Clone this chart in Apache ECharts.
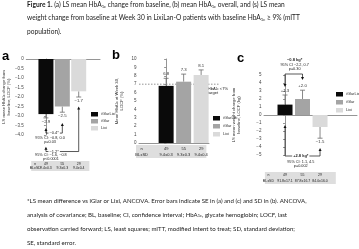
<!DOCTYPE html>
<html><head><meta charset="utf-8">
<script src="https://cdn.jsdelivr.net/npm/echarts@6/dist/echarts.min.js"></script>
<style>html,body{margin:0;padding:0;background:#fff}#c{width:359px;height:249px}</style>
</head><body><div id="c"></div>
<script>
// ---------- data ----------
const categories = ['iGlarLixi', 'iGlar', 'Lixi'];
const nCounts = ['49', '55', '29'];
// (a) LS mean HbA1c change from baseline (%)
const hba1cChange = [-2.9, -2.5, -1.7];
const hba1cChangeSE = [0.2, 0.3, 0.3];
const hba1cChangeLabels = ['−2.9', '−2.5', '−1.7'];
const blHbA1c = ['9.4±0.3', '9.3±0.3', '9.4±0.4'];
// (b) mean HbA1c at week 30 (%)
const hba1cMean = [6.8, 7.3, 8.1];
const hba1cMeanSD = [0.9, 0.9, 0.6];
const hba1cMeanLabels = ['6.8', '7.3', '8.1'];
const hba1cTarget = 7;
// (c) LS mean weight change (kg)
const weightChange = [1.3, 2.0, -1.5];
const weightChangeSE = [1.2, 1.1, 1.4];
const weightChangeLabels = ['+1.3', '+2.0', '−1.5'];
const blWeight = ['91.8±17.1', '87.8±16.7', '84.0±16.0'];
// comparisons (LS mean differences)
const cmpA = [
  { from: 0, to: 1, diff: '−0.4*', ci: '95% CI: −0.8, 0.0', p: 'p=0.03' },
  { from: 0, to: 2, diff: '−1.2*', ci: '95% CI: −1.6, −0.8', p: 'p<0.0001' }
];
const cmpC = [
  { from: 0, to: 1, diff: '−0.8 kg*', ci: '95% CI −2.2, 0.7', p: 'p=0.30' },
  { from: 0, to: 2, diff: '+2.8 kg*', ci: '95% CI: 1.1, 4.5', p: 'p=0.002' }
];

// ---------- style ----------
const colors = ['#0a0a0a', '#a4a4a4', '#dadada'];
const CF = 'Liberation Sans, Arial, sans-serif';
const TF = 'Lato, sans-serif';
const axisCol = '#7a7a7a';
const txtCol = '#333';

const chart = echarts.init(document.getElementById('c'), null, { width: 359, height: 249 });

const grids = [
  { left: 23, top: 59, width: 77, height: 76 },
  { left: 139, top: 59, width: 70, height: 84 },
  { left: 264, top: 75, width: 93, height: 80 }
];
const xRanges = [[-1.2, 3.3], [-1.55, 2.45], [-1.2, 4.11]];
const fmt = d => v => (v < 0 ? '−' : '') + (v === 0 ? '0' : (d ? Math.abs(v).toFixed(d) : String(Math.abs(v))));

const subRich = (fs) => ({ s: { fontSize: fs * 0.7, fontFamily: CF, color: txtCol, verticalAlign: 'bottom' } });

function yAx(i, min, max, interval, name, gap, dec) {
  return {
    type: 'value', gridIndex: i, min, max, interval,
    name, nameLocation: 'middle', nameRotate: 90, nameGap: gap,
    nameTextStyle: { fontSize: 4.2, fontFamily: CF, color: txtCol, lineHeight: 5, rich: subRich(4.2) },
    axisLine: { show: true, lineStyle: { color: axisCol, width: 0.8 } },
    axisTick: { show: true, length: 2, lineStyle: { color: axisCol, width: 0.8 } },
    axisLabel: { fontSize: 4.5, fontFamily: CF, color: '#444', margin: 2.5, formatter: fmt(dec) },
    splitLine: { show: false }
  };
}
function xAx(i) {
  return {
    type: 'value', gridIndex: i, min: xRanges[i][0], max: xRanges[i][1],
    axisLine: { show: true, onZero: true, lineStyle: { color: axisCol, width: 0.8 } },
    axisTick: { show: false }, axisLabel: { show: false }, splitLine: { show: false }
  };
}

const panels = [
  { vals: hba1cChange, err: hba1cChangeSE, labels: hba1cChangeLabels },
  { vals: hba1cMean, err: hba1cMeanSD, labels: hba1cMeanLabels },
  { vals: weightChange, err: weightChangeSE, labels: weightChangeLabels }
];

const series = [];
panels.forEach((pn, p) => {
  categories.forEach((c, k) => {
    series.push({
      type: 'bar', name: c, xAxisIndex: p, yAxisIndex: p,
      data: [[k, pn.vals[k]]], barWidth: 15, barGap: '-100%',
      itemStyle: { color: colors[k] }, silent: true
    });
  });
  // error bars + value labels
  series.push({
    type: 'custom', xAxisIndex: p, yAxisIndex: p, clip: false, silent: true,
    data: pn.vals.map((v, k) => [k, v, pn.err[k]]),
    renderItem: (params, api) => {
      const k = api.value(0), v = api.value(1), e = api.value(2);
      const dir = v >= 0 ? 1 : -1;
      const p0 = api.coord([k, v]), p1 = api.coord([k, v + dir * e]);
      const ly = p1[1] - dir * 4;
      return { type: 'group', children: [
        { type: 'line', shape: { x1: p0[0], y1: p0[1], x2: p1[0], y2: p1[1] }, style: { stroke: '#6a6a6a', lineWidth: 0.8 } },
        { type: 'line', shape: { x1: p1[0] - 2.5, y1: p1[1], x2: p1[0] + 2.5, y2: p1[1] }, style: { stroke: '#6a6a6a', lineWidth: 0.8 } },
        { type: 'text', x: p1[0], y: ly, style: { text: pn.labels[k], font: '4.3px ' + CF, fill: txtCol, align: 'center', verticalAlign: 'middle' } }
      ] };
    }
  });
});

// ----- annotation helpers -----
const arrowHead = (x, y, up) => ({ type: 'polygon', shape: { points: up ? [[x, y], [x - 1.5, y + 3], [x + 1.5, y + 3]] : [[x, y], [x - 1.5, y - 3], [x + 1.5, y - 3]] }, style: { fill: '#111' } });
const ln = (x1, y1, x2, y2) => ({ type: 'line', shape: { x1, y1, x2, y2 }, style: { stroke: '#111', lineWidth: 0.7 } });
const tx = (x, y, text, fs, align, bg, bold) => ({ type: 'text', x, y, z2: 10, style: { text, font: (bold ? 'bold ' : '') + fs + 'px ' + CF, fill: '#222', align: align || 'center', verticalAlign: 'middle', backgroundColor: bg || null, padding: bg ? [0, 1] : 0 } });

function bracket(api, c, g) {
  const x0 = api.coord([c.from, 0])[0], x1 = api.coord([c.to, 0])[0];
  const yl = api.coord([0, g.line])[1];
  const y0 = api.coord([0, g.fromTip])[1], y1 = api.coord([0, g.toTip])[1];
  const up = y0 < yl;
  const out = [ln(x0, yl, x1, yl), ln(x0, yl, x0, y0 + (up ? 2 : -2)), ln(x1, yl, x1, y1 + (up ? 2 : -2)), arrowHead(x0, y0, up), arrowHead(x1, y1, up)];
  const tcx = api.coord([g.tx, 0])[0];
  if (g.diffLeft) out.push(tx(x0 + 2.5, yl, c.diff, 4, 'left', '#fff'));
  else out.push(tx(tcx, yl + g.d[0], c.diff, 4, 'center', g.d[0] === 0 ? '#fff' : null, true));
  out.push(tx(tcx, yl + g.d[1], c.ci, 3.8));
  out.push(tx(tcx, yl + g.d[2], c.p, 3.8));
  return out;
}
function table(api, rows, g) {
  const xa = api.coord([g.x0, 0])[0], xb = api.coord([g.x1, 0])[0];
  const base = api.coord([0, g.base])[1];
  const out = [{ type: 'rect', shape: { x: xa, y: base + g.top, width: xb - xa, height: g.h }, style: { fill: '#dedede' } }];
  const lx = api.coord([g.lab, 0])[0];
  out.push(tx(lx, base + g.r[0], 'n', g.fs));
  out.push(tx(lx, base + g.r[1], 'BL±SD', g.fs));
  rows[0].forEach((t, k) => out.push(tx(api.coord([k, 0])[0], base + g.r[0], t, g.fs)));
  rows[1].forEach((t, k) => out.push(tx(api.coord([k, 0])[0], base + g.r[1], t, g.fs)));
  return out;
}

// panel a annotations
series.push({
  type: 'custom', xAxisIndex: 0, yAxisIndex: 0, clip: false, silent: true, data: [[0, 0]],
  renderItem: (params, api) => ({ type: 'group', children: [
    ...bracket(api, cmpA[0], { line: -3.9, fromTip: -3.63, toTip: -3.37, tx: 0.25, diffLeft: true, d: [0, 4.5, 8.5] }),
    ...bracket(api, cmpA[1], { line: -4.87, fromTip: -4.62, toTip: -2.5, tx: 0.3, diffLeft: true, d: [0, 3.5, 7.5] }),
    ...table(api, [nCounts, blHbA1c], { x0: -0.9, x1: 2.65, base: -4, top: 26, h: 10, lab: -0.65, r: [29, 33.5], fs: 3.5 })
  ] })
});
// panel b target line + table
series.push({
  type: 'custom', xAxisIndex: 1, yAxisIndex: 1, clip: false, silent: true, data: [[0, 0]],
  renderItem: (params, api) => {
    const a = api.coord([xRanges[1][0], hba1cTarget]), b = api.coord([3.05, hba1cTarget]);
    const t = api.coord([2.38, hba1cTarget]);
    return { type: 'group', children: [
      { type: 'line', shape: { x1: a[0], y1: a[1], x2: b[0], y2: b[1] }, style: { stroke: '#888', lineWidth: 0.9, lineDash: [1.5, 1.5] } },
      { type: 'text', x: t[0], y: t[1] + 2, style: { text: 'HbA{s|1c} <7%\ntarget', font: '4px ' + CF, fill: '#222', align: 'left', verticalAlign: 'top', lineHeight: 4.5, rich: { s: { fontSize: 3, fontFamily: CF, fill: '#222', verticalAlign: 'bottom' } } } },
      ...table(api, [nCounts, blHbA1c], { x0: -1.72, x1: 2.3, base: 0, top: 2, h: 13, lab: -1.4, r: [5.5, 12], fs: 4 })
    ] };
  }
});
// panel c annotations
series.push({
  type: 'custom', xAxisIndex: 2, yAxisIndex: 2, clip: false, silent: true, data: [[0, 0]],
  renderItem: (params, api) => ({ type: 'group', children: [
    ...bracket(api, cmpC[0], { line: 5.125, fromTip: 3.5, toTip: 4.375, tx: 0.55, d: [-14, -9.5, -5] }),
    ...bracket(api, cmpC[1], { line: -5.125, fromTip: -1.25, toTip: -4.125, tx: 0.9, d: [0, 5.5, 10] }),
    ...table(api, [nCounts, blWeight], { x0: -1.15, x1: 2.9, base: -5, top: 17, h: 12, lab: -0.95, r: [20, 25.7], fs: 3.5 })
  ] })
});

const legendBase = { orient: 'vertical', itemWidth: 7, itemHeight: 4.5, icon: 'rect', selectedMode: false,
  textStyle: { fontSize: 4, fontFamily: CF, color: '#333', padding: [0, 0, 0, -2] }, data: categories };

const yName = (a, b) => a + '\n' + b;

const option = {
  animation: false,
  grid: grids,
  xAxis: [xAx(0), xAx(1), xAx(2)],
  yAxis: [
    yAx(0, -4, 0, 0.5, yName('LS mean HbA{s|1c} change from', 'baseline, LOCF (%)'), 15, 1),
    yAx(1, 0, 10, 1, yName('Mean HbA{s|1c} at Week 30,', 'LOCF (%)'), 15, 0),
    yAx(2, -5, 5, 1, yName('LS mean weight change from', 'baseline, LOCF (kg)'), 23, 0)
  ],
  legend: [
    Object.assign({}, legendBase, { left: 86, top: 107, itemGap: 2.5 }),
    Object.assign({}, legendBase, { left: 208, top: 111, itemGap: 3.5 }),
    Object.assign({}, legendBase, { left: 331, top: 87, itemGap: 3.5 })
  ],
  series,
  graphic: [
    { type: 'text', left: 2, top: 50, style: { text: 'a', font: 'bold 13px ' + CF, fill: '#000' } },
    { type: 'text', left: 112, top: 49, style: { text: 'b', font: 'bold 13px ' + CF, fill: '#000' } },
    { type: 'text', left: 237, top: 52, style: { text: 'c', font: 'bold 13px ' + CF, fill: '#000' } },
    ...[
      '{b|Figure 1.} (a) LS mean HbA{s|1c} change from baseline, (b) mean HbA{s|1c} overall, and (s) LS mean',
      'weight change from baseline at Week 30 in LixiLan-O patients with baseline HbA{s|1c} ≥ 9% (mITT',
      'population).'
    ].map((t, i) => ({ type: 'text', left: 27, top: 1.5 + i * 13.3, style: { text: t, font: '6.6px ' + TF, fill: '#1a1a1a',
      rich: { b: { fontWeight: 'bold', fontSize: 6.6, fontFamily: TF, fill: '#1a1a1a' }, s: { fontSize: 4.2, fontFamily: TF, fill: '#1a1a1a', verticalAlign: 'bottom' } } } })),
    ...[
      '*LS mean difference vs iGlar or Lixi, ANCOVA. Error bars indicate SE in (a) and (c) and SD in (b). ANCOVA,',
      'analysis of covariance; BL, baseline; CI, confidence interval; HbA{s|1c}, glycate hemoglobin; LOCF, last',
      'observation carried forward; LS, least squares; mITT, modified intent to treat; SD, standard deviation;',
      'SE, standard error.'
    ].map((t, i) => ({ type: 'text', left: 27, top: 198.5 + i * 13.7, style: { text: t, font: '6.1px ' + TF, fill: '#1a1a1a',
      rich: { s: { fontSize: 4, fontFamily: TF, fill: '#1a1a1a', verticalAlign: 'bottom' } } } }))
  ]
};
chart.setOption(option);
</script></body></html>
